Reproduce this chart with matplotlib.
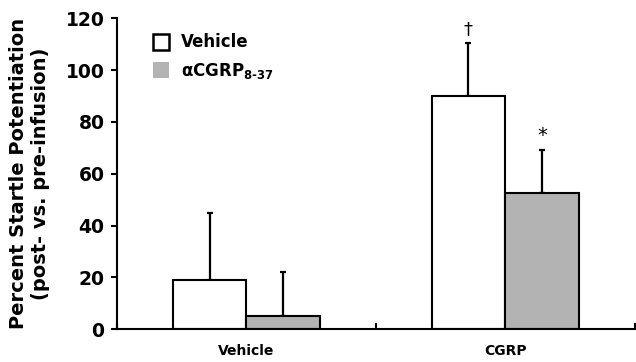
import matplotlib
matplotlib.use('Agg')
import matplotlib.pyplot as plt
from matplotlib.patches import Patch
import numpy as np

# data
groups = ['Vehicle', 'CGRP']
series = ['Vehicle', 'αCGRP$_{8\\text{-}37}$']
vehicle_mean = [19, 90]
vehicle_sem = [26, 20.5]
antag_mean = [5, 52.5]
antag_sem = [17, 16.5]
marks = [['', '\u2020'], ['', '*']]

plt.rcParams['font.family'] = ['DejaVu Sans']
plt.rcParams['font.weight'] = 'bold'

fig = plt.figure(figsize=(6.36, 3.62), dpi=100)
ax = fig.add_axes([0.184, 0.091, 0.814, 0.858])

x = np.arange(len(groups))
w = 0.285
colors = ['white', '#b3b3b3']
means = [vehicle_mean, antag_mean]
sems = [vehicle_sem, antag_sem]

for i in range(2):
    pos = x + (i - 0.5) * w
    ax.bar(pos, means[i], w, color=colors[i], edgecolor='black', linewidth=1.5, zorder=2)
    up = np.array(sems[i])
    ax.errorbar(pos, means[i], yerr=[np.zeros_like(up), up], fmt='none',
                ecolor='black', elinewidth=1.6, capsize=2, capthick=1.6, zorder=1)
    for j, m in enumerate(marks[i]):
        if m:
            ax.text(pos[j], means[i][j] + sems[i][j] + 2, m, ha='center', va='bottom',
                    fontsize=14 if m == '*' else 13, fontweight='normal')

ax.set_xlim(-0.5, 1.5)
ax.set_ylim(0, 120)
ax.set_yticks(range(0, 121, 20))
ax.set_xticks([-0.5, 0.5, 1.5])
ax.set_xticklabels([])
ax.set_xticks(x, minor=True)
ax.set_xticklabels(groups, minor=True, fontsize=10, fontweight='bold')
ax.tick_params(axis='x', which='minor', length=0, pad=11)
ax.tick_params(axis='x', which='major', direction='in', length=4, width=1.5)
ax.tick_params(axis='y', direction='out', length=4, width=1.5, labelsize=13.5, pad=5)
for lab in ax.get_yticklabels():
    lab.set_fontweight('bold')
ax.spines['top'].set_visible(False)
ax.spines['right'].set_visible(False)
ax.spines['left'].set_linewidth(1.5)
ax.spines['bottom'].set_linewidth(1.5)

ax.set_ylabel('Percent Startle Potentiation\n(post- vs. pre-infusion)', fontsize=14,
              fontweight='bold', labelpad=11, linespacing=1.2)

handles = [Patch(facecolor='white', edgecolor='black', linewidth=1.8),
           Patch(facecolor='#b3b3b3', edgecolor='none')]
ax.legend(handles, series, loc='upper left', bbox_to_anchor=(0.04, 1.0), frameon=False,
          prop={'size': 12, 'weight': 'bold'}, handlelength=1.0, handleheight=1.05,
          handletextpad=0.7, labelspacing=0.55)

fig.savefig('out.png', dpi=100)
